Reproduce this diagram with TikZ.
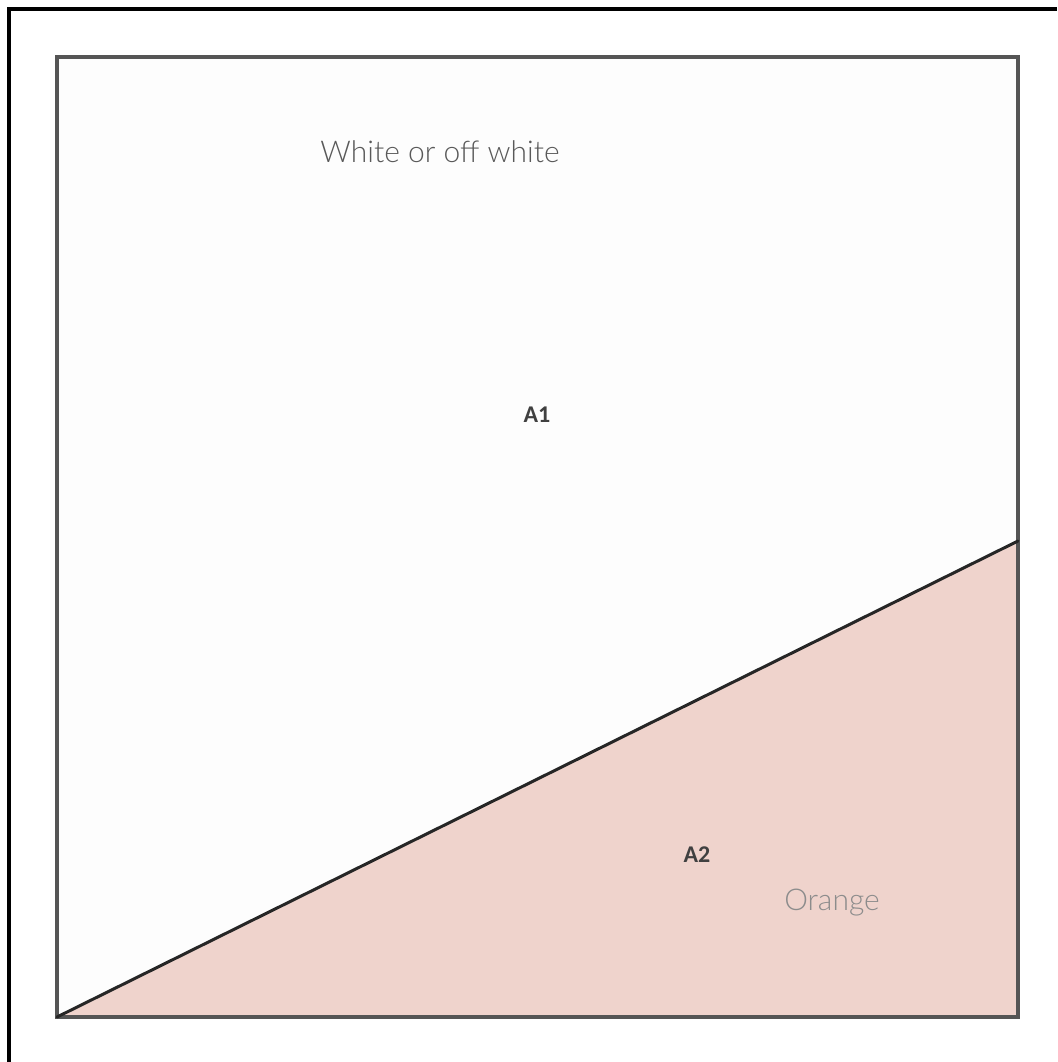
\documentclass[tikz,border=0pt]{standalone}
\usepackage{xcolor}
\usepackage{fontspec}
\usepackage{tikz}
\usetikzlibrary{positioning, calc}
\newfontfamily\lightfont{Lato Light}
\newfontfamily\labelfont{Carlito}
\definecolor{framegray}{HTML}{555555}
\definecolor{offwhite}{HTML}{FDFDFD}
\definecolor{pinkfill}{HTML}{EFD3CC}
\definecolor{textgray}{HTML}{595959}
\definecolor{lightgray}{HTML}{8C8C8C}
\tikzset{
    areabox/.style={draw=framegray, line width=3.5pt},
    wedge/.style={fill=pinkfill},
    cutline/.style={draw=black!85, line width=3pt, line cap=round},
    areatag/.style={font=\labelfont\fontsize{24}{24}\selectfont\bfseries, text=black!75, inner sep=0pt},
    colourtag/.style={font=\lightfont\fontsize{30}{30}\selectfont, inner sep=0pt}
}
\begin{document}
\begin{tikzpicture}[x=1pt, y=-1pt]
    \useasboundingbox (0,0) rectangle (1057,1062);
    \fill[white] (0,0) rectangle (1057,1062);
    % outer frame, only top and left show
    \draw[line width=3.5pt] (9,1062) -- (9,9) -- (1057,9);

    \coordinate (tl) at (57,57);
    \coordinate (br) at (1018,1017);
    \coordinate (bl) at (57,1017);
    \coordinate (cut) at (1018,541);

    \fill[offwhite] (tl) rectangle (br);
    \fill[wedge] (bl) -- (cut) -- (br) -- cycle;
    \draw[areabox] (tl) rectangle (br);
    \draw[cutline] (bl) -- (cut);

    \node (white) [colourtag, text=textgray] at (440,152) {White or off white};
    \node (a1) [areatag] at (537,415) {A1};
    \node (a2) [areatag] at (697,855) {A2};
    \node (orange) [colourtag, text=lightgray] at (832,903) {Orange};
\end{tikzpicture}
\end{document}
